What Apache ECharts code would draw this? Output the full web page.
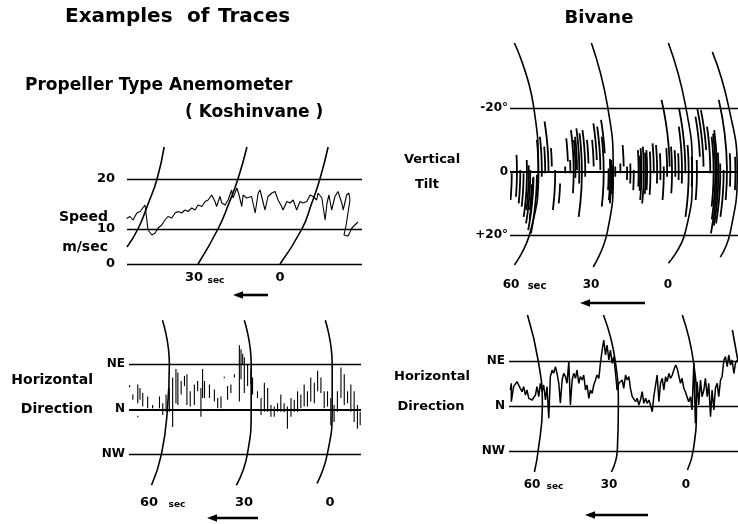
<!DOCTYPE html>
<html><head><meta charset="utf-8">
<script src="https://cdn.jsdelivr.net/npm/echarts@6/dist/echarts.min.js"></script>
<style>html,body{margin:0;padding:0;background:#fff}#c{width:738px;height:524px}</style>
</head><body><div id="c"></div>
<script>
// ================= DATA =================
// Panel A: propeller anemometer speed (x: seconds before "0", y: m/s on chart scale)
const speedLevels = [3, 10, 20];
const speedTickLabels = ['0', '10', '20'];
const speedTrace = [
[56.1,12.1],[54.9,12.5],[53.8,11.8],[52.4,13.2],[51.2,13.5],[49.4,14.8],[48.3,9.8],[46.9,8.8],[45.7,9.2],[44.6,10.2],
[43.3,10.8],[42.1,11.8],[41.0,12.5],[39.6,12.2],[38.4,13.2],[37.3,13.5],[36.0,13.2],[34.8,13.8],[33.7,13.5],[32.3,14.2],
[31.1,13.8],[30.0,14.8],[28.6,14.5],[27.4,15.5],[26.3,15.8],[25.0,16.8],[23.8,15.5],[23.2,14.5],[22.0,16.5],[21.3,15.2],
[20.1,14.8],[19.0,15.8],[17.7,17.8],[17.2,16.2],[15.8,18.2],[15.0,16.8],[14.0,14.5],[13.5,16.8],[12.2,16.2],[10.4,16.5],
[9.1,13.2],[8.0,17.2],[7.3,17.8],[5.5,13.8],[4.4,16.5],[3.0,17.2],[1.8,17.5],[0.7,15.8],[-0.6,14.5],[-1.1,13.8],
[-2.5,15.5],[-3.7,15.2],[-4.8,15.8],[-6.1,13.8],[-7.3,15.5],[-8.4,15.2],[-9.8,15.5],[-11.0,16.8],[-12.1,16.5],[-13.4,15.8],
[-13.9,17.2],[-15.3,16.2],[-16.5,11.8],[-17.2,15.2],[-17.9,16.8],[-18.9,13.8],[-20.1,16.5],[-21.2,17.5],[-22.6,15.2],[-23.1,13.8],
[-24.4,16.8],[-25.2,17.2],[-25.6,15.8],[-24.1,10.5],[-23.4,8.8],[-24.9,8.6],[-26.3,10.2],[-28.5,11.4]
];
const speedArcs = [
  [[42.4,26.4],[45.0,20],[48.3,15],[52.0,10],[56.0,6.4]],
  [[12.1,26.4],[15.4,20],[18.8,15],[22.7,10],[30.0,3]],
  [[-17.6,26.4],[-14.6,20],[-11.5,15],[-8.0,10],[0,3]]
];

// Panel B: propeller anemometer horizontal direction (deg, N = 0, NE = +45)
const dirLevels = [45, 0, -45];
const dirTickLabels = ['NE', 'N', 'NW'];
const koshinDirStrokes = [
[73.8,22,24],[72.6,9.5,14.7],[70.8,6.1,24.9],[70.8,-8,-6.5],[70.0,9.5,21.4],[69.0,2.7,16.3],[67.2,1.0,12.9],[65.4,1.0,4.4],
[62.9,1.0,12.9],[61.7,-5.8,6.1],[60.5,-2.4,14.7],[59.3,-2.4,21.4],[58.1,-17.7,31.7],[56.9,6.1,40.2],[56.2,4.4,36.8],
[55.0,14.7,28.3],[53.8,23.2,33.4],[52.9,4.4,35.1],[51.7,2.7,18.0],[50.2,4.4,24.9],[49.0,18.0,28.3],[47.8,-7.5,21.4],
[47.2,11.2,40.2],[46.5,11.2,28.3],[44.7,11.2,24.9],[42.9,7.8,19.7],[41.7,1.0,11.2],[40.5,1.0,12.9],[39.3,31.0,32.5],
[38.1,9.5,23.2],[36.9,16.3,24.9],[35.6,31.7,35.1],[33.8,7.8,64.0],[33.2,30,60],[32.6,45.3,55.5],[32.0,16.3,52.1],
[30.8,23.2,45.3],[29.6,25,40],[29.0,14.7,31.7],[27.2,11.2,18.0],[25.9,-5.8,11.2],[24.7,-2.4,26.6],[23.5,-2.4,21.4],
[22.3,-7.5,4.4],[21.1,-7.5,2.7],[19.9,-2.4,6.1],[18.7,-2.4,14.7],[17.5,-3.0,6.1],[16.3,-19.4,2.7],[15.0,-7.5,11.2],
[13.8,-2.4,9.5],[12.6,-2.4,18.0],[11.4,1.0,14.7],[10.2,2.7,24.9],[9.0,2.7,18.0],[7.8,7.8,31.7],[6.5,6.1,26.6],
[5.3,18.0,38.5],[4.1,16.3,31.7],[2.9,1.0,18.0],[1.7,2.7,18.0],[0.5,-16.0,11.2],[-0.7,-12.6,4.4],[-1.9,-2.4,18.0],
[-3.2,11.2,41.9],[-4.4,4.4,35.1],[-5.6,6.1,18.0],[-6.8,-2.4,24.9],[-8.0,-12.6,18.0],[-9.2,-19.4,4.4],[-10.2,-16.0,-2.4]
];
const koshinDirArcs = [
  [[61.8,89],[59.3,46],[60,0],[62.2,-45],[65.8,-76]],
  [[32.0,89],[29.5,46],[29.5,0],[30.9,-45],[34.9,-76]],
  [[2.5,89],[0,46],[0,0],[1.8,-45],[5.5,-74]]
];

// Panel C: bivane vertical tilt (deg, -20 up)
const tiltLevels = [-20, 0, 20];
const tiltTickLabels = ['-20°', '0', '+20°'];
const tiltStrokes = [
[71.3,-13.1,5.8],[71.3,5.8,20.5],[70.3,0.5,8.9],[68.3,-5.3,7.9],[67.0,-0.5,10.0],[65.7,0.5,11.0],[64.4,-3.7,14.2],
[63.7,-2,12],[63.1,-0.5,16.3],[62.4,4,12],[62.0,2,15],[61.8,1.6,18.4],[60.5,1.0,19.4],[59.9,-10.0,5.8],[58.6,-11.0,1.6],
[57.3,-7.9,0.5],[56.0,-15.8,0],[54.7,-7.4,-1.6],[53.4,-0.5,12.1],[51.4,3.7,10.0],[49.5,-1.6,0.5],[48.4,-10.5,-3.2],
[47.5,-3.7,0.5],[46.2,-13.1,6.8],[45.5,-10,2],[44.9,-11.0,-0.5],[44.0,-13.6,3.7],[43.0,-12.1,14.2],[41.7,-13.1,1.6],
[40.4,-10.0,-2.6],[38.4,-10.0,-1.6],[37.1,-15.2,-3.7],[35.8,-14.2,-0.5],[34.5,-11.0,11.0],[33.9,-16.3,-5.8],
[32.6,-1.0,5.8],[32.0,-4,9],[31.5,-3.7,10.0],[31.0,-2,7],[30.0,-1.6,1.6],[28.0,-2.6,0.5],[26.7,-8.4,-1.6],[25.4,-1.6,2.6],
[24.1,-2.6,3.7],[22.8,-0.5,5.8],[20.9,-6.8,4.7],[20.3,-5,6],[19.8,-7.4,8.9],[18.9,-7.9,10.0],[18.2,-6,7],[17.6,-6.8,5.8],
[16.3,-6.3,7.3],[15.0,-8.9,0.5],[13.7,-8.4,3.7],[12.4,-5.8,2.6],[11.1,-1.6,8.9],[9.8,-7.4,1.6],[8.8,-22.6,-1.6],
[7.9,-7.9,6.8],[6.6,-6.8,1.6],[5.3,-5.8,2.6],[4.0,-14.2,3.7],[2.7,-20,0.5],[1.4,-8.4,14.2],[0.1,-4.7,4.7],[-1.8,-3.7,8.9],
[-3.1,-17.3,-4.7],[-4.4,-19.9,-1.6],[-5.7,-19.4,-6.8],[-7.0,-14.2,0.5],[-8.3,-11.0,11.0],[-9.0,-12,15],[-9.6,-13.1,19.4],
[-10.2,-6,17],[-10.9,-2.6,16.3],[-12.2,-0.5,14.2],[-13.5,-22.6,8.9],[-14.8,-5.8,4.7],[-16.8,-4.7,5.8]
];
const tiltArcs = [
  [[69.3,-40.5],[61.9,-21.0],[60.0,0],[63.1,19.0],[69.3,29.4]],
  [[39.3,-40.5],[33.1,-21.0],[30.8,0],[33.1,19.0],[38.6,30]],
  [[9.3,-40.5],[2.7,-21.0],[0,0],[2.7,19.0],[9.3,28.8]],
  [[-7.8,-37.7],[-14.0,-21.0],[-17.5,0],[-14.8,19.0],[-10.9,26.9]]
];

// Panel D: bivane horizontal direction (deg)
const bivaneDirTrace = [
[72.5,16],[72.1,22.7],[72.1,4.3],[71.2,19.3],[69.9,24.3],[68.6,17.7],[67.9,14.3],[67.3,19.3],[66.6,11],[66.0,16],
[65.3,7.7],[64.0,6],[62.7,11],[62.1,19.3],[61.4,9.3],[60.8,22.7],[60.1,14.3],[59.5,21],[58.8,6],[58.2,19.3],
[57.5,-12.3],[56.9,29.3],[56.2,36],[55.6,32.7],[54.9,39.3],[54.3,32.7],[53.6,22.7],[53.0,2.7],[52.3,26],[51.7,32.7],
[51.0,29.3],[50.4,22.7],[49.7,44.3],[49.1,1],[48.4,26],[47.8,32.7],[47.1,27.7],[46.5,36],[45.8,22.7],[45.2,29.3],
[44.5,26],[43.9,31],[43.2,16],[42.6,21],[41.9,7.7],[41.3,16],[40.6,12.7],[40.0,21],[39.3,26],[38.7,31],
[38.0,27.7],[37.4,42.7],[36.7,56],[36.1,66],[35.4,51],[34.8,61],[34.1,46],[33.5,56],[32.8,42.7],[32.2,49.3],
[31.5,32.7],[30.9,16],[30.2,22.7],[29.6,21],[28.9,26],[28.3,17.7],[27.6,31],[27.0,26],[26.3,29.3],[25.7,17.7],
[25.0,9.3],[24.4,11],[23.7,4.3],[23.1,7.7],[22.4,1],[21.8,6],[21.1,14.3],[20.5,2.7],[19.8,7.7],[19.2,2.7],
[18.5,6],[17.9,1],[17.2,-5.7],[16.6,9.3],[15.9,11],[15.3,31],[14.6,4.3],[14.0,22.7],[13.3,27.7],[12.7,16],
[12.0,29.3],[11.4,24.3],[10.7,32.7],[10.1,27.7],[9.4,31],[8.8,36],[8.1,41],[7.5,37.7],[6.9,36],[6.2,22.7],
[5.6,27.7],[4.9,17.7],[4.3,14.3],[3.6,12.7],[3.0,4.3],[2.3,9.3],[1.7,-4],[1.0,42.7],[0.4,-17.3],[-0.3,24.3],
[-0.9,1],[-1.6,26],[-2.2,9.3],[-2.9,16],[-3.5,27.7],[-4.2,9.3],[-4.8,22.7],[-5.5,-10.7],[-6.1,16],[-6.8,-4],
[-7.4,17.7],[-8.1,22.7],[-8.7,9.3],[-9.4,26],[-10.0,29.3],[-10.7,46],[-11.3,49.3],[-12.0,39.3],[-12.6,51],[-13.3,41],
[-13.9,46],[-14.6,32.7],[-15.2,42.7],[-15.9,46]
];
const bivaneDirArcs = [
  [[65.8,91],[61.6,45],[60,0],[61.6,-44],[63.1,-66]],
  [[36.2,91],[31.6,45],[30.4,0],[30.8,-44],[33.1,-66]],
  [[5.5,91],[1.2,45],[0,0],[1.2,-44],[3.5,-64]],
  [[-14.0,76],[-16.2,45]]
];

// ================= CHART =================
const FONT = '"DejaVu Sans", Verdana, sans-serif';
const chart = echarts.init(document.getElementById('c'), null, {renderer: 'canvas'});

const grids = [
  {left: 127, top: 147, width: 235, height: 117},   // A speed
  {left: 129, top: 320, width: 232, height: 165},   // B koshinvane direction
  {left: 510, top: 43,  width: 228, height: 224},   // C tilt
  {left: 509, top: 315, width: 229, height: 157}    // D bivane direction
];
const xRanges = [[-30, 56], [-10.5, 74], [-17.8, 71], [-16.2, 73]];
const yRanges = [[3, 26.4], [-75.7, 89.3], [-40.5, 30.0], [-66, 91]];
const yInverse = [false, false, true, false];

function levelLines(levels, labels, dist, size, widths) {
  return {
    silent: true, symbol: ['none', 'none'], animation: false,
    lineStyle: {color: '#000', type: 'solid', width: 1.4},
    label: {show: true, position: 'end', distance: dist, color: '#000',
            fontFamily: FONT, fontWeight: 'bold', fontSize: size},
    emphasis: {disabled: true},
    data: levels.map((v, i) => ({yAxis: v, label: {formatter: labels[i]},
                                 lineStyle: {width: widths ? widths[i] : 1.4}}))
  };
}
function arcSeries(arcs, idx) {
  return arcs.map(a => ({
    type: 'line', xAxisIndex: idx, yAxisIndex: idx, data: a, smooth: 0.5,
    showSymbol: false, silent: true, animation: false, clip: true,
    lineStyle: {color: '#000', width: 1.6}
  }));
}
function strokeSeries(data, idx, curv, width) {
  return {
    type: 'custom', xAxisIndex: idx, yAxisIndex: idx, data: data, silent: true,
    animation: false, clip: true,
    renderItem: function (params, api) {
      const s = api.value(0), lo = api.value(1), hi = api.value(2);
      const pts = [];
      for (let k = 0; k <= 6; k++) {
        const d = lo + (hi - lo) * k / 6;
        const p = api.coord([s, d]);
        pts.push([p[0] - curv * d * d, p[1]]);
      }
      return {type: 'polyline', shape: {points: pts},
              style: {stroke: '#000', lineWidth: width, fill: null}};
    }
  };
}

const series = [];
series.push({
  type: 'line', xAxisIndex: 0, yAxisIndex: 0, data: speedTrace, smooth: false,
  showSymbol: false, silent: true, animation: false,
  lineStyle: {color: '#000', width: 1.1},
  markLine: levelLines(speedLevels, speedTickLabels, 12, 13)
});
series.push(...arcSeries(speedArcs, 0));

const bStrokes = strokeSeries(koshinDirStrokes, 1, 0, 1.1);
bStrokes.markLine = levelLines(dirLevels, dirTickLabels, 4, 12, [1.4, 2.2, 1.4]);
series.push(bStrokes);
series.push(...arcSeries(koshinDirArcs, 1));

const cStrokes = strokeSeries(tiltStrokes, 2, 0.016, 1.8);
cStrokes.markLine = levelLines(tiltLevels, tiltTickLabels, 2, 12, [1.4, 2.2, 1.4]);
series.push(cStrokes);
series.push(...arcSeries(tiltArcs, 2));

series.push({
  type: 'line', xAxisIndex: 3, yAxisIndex: 3, data: bivaneDirTrace, smooth: false,
  showSymbol: false, silent: true, animation: false,
  lineStyle: {color: '#000', width: 1.5},
  markLine: levelLines(dirLevels, dirTickLabels, 4, 12)
});
series.push(...arcSeries(bivaneDirArcs, 3));

function txt(text, x, y, size, align) {
  return {type: 'text', x: x, y: y, silent: true,
          style: {text: text, fill: '#000', font: 'bold ' + size + 'px ' + FONT,
                  textAlign: align || 'left', textVerticalAlign: 'middle'}};
}
function arrow(x1, x2, y) {
  return [
    {type: 'line', silent: true, shape: {x1: x1 + 7, y1: y, x2: x2, y2: y}, style: {stroke: '#000', lineWidth: 2.6}},
    {type: 'polygon', silent: true, shape: {points: [[x1, y], [x1 + 10, y - 3.8], [x1 + 10, y + 3.8]]}, style: {fill: '#000'}}
  ];
}

const graphic = [
  txt('Examples', 65, 17, 20), txt('of', 187, 17, 20), txt('Traces', 218, 17, 20),
  txt('Bivane', 599, 18, 18, 'center'),
  txt('Propeller Type Anemometer', 25, 86, 17),
  txt('( Koshinvane )', 185, 113, 17),
  txt('Speed', 108, 217, 14, 'right'),
  txt('m/sec', 108, 247, 14, 'right'),
  txt('30', 194, 278, 13, 'center'), txt('sec', 216, 281, 9, 'center'),
  txt('0', 280, 278, 13, 'center'),
  txt('Horizontal', 93, 380, 14, 'right'),
  txt('Direction', 93, 409, 14, 'right'),
  txt('60', 149, 503, 13, 'center'), txt('sec', 177, 505, 9, 'center'),
  txt('30', 244, 503, 13, 'center'),
  txt('0', 330, 503, 13, 'center'),
  txt('Vertical', 432, 160, 13, 'center'),
  txt('Tilt', 427, 185, 13, 'center'),
  txt('60', 511, 285, 12, 'center'), txt('sec', 537, 286, 10, 'center'),
  txt('30', 591, 285, 12, 'center'),
  txt('0', 668, 285, 12, 'center'),
  txt('Horizontal', 432, 377, 13, 'center'),
  txt('Direction', 431, 407, 13, 'center'),
  txt('60', 532, 485, 12, 'center'), txt('sec', 555, 487, 9, 'center'),
  txt('30', 609, 485, 12, 'center'),
  txt('0', 686, 485, 12, 'center'),
  ...arrow(233, 268, 295),
  ...arrow(207, 258, 518),
  ...arrow(580, 645, 303),
  ...arrow(585, 648, 515)
];

chart.setOption({
  animation: false,
  backgroundColor: '#fff',
  grid: grids.map(g => Object.assign({containLabel: false}, g)),
  xAxis: grids.map((g, i) => ({type: 'value', gridIndex: i, min: xRanges[i][0], max: xRanges[i][1],
                               inverse: true, show: false})),
  yAxis: grids.map((g, i) => ({type: 'value', gridIndex: i, min: yRanges[i][0], max: yRanges[i][1],
                               inverse: yInverse[i], show: false})),
  series: series,
  graphic: graphic
});
</script></body></html>
